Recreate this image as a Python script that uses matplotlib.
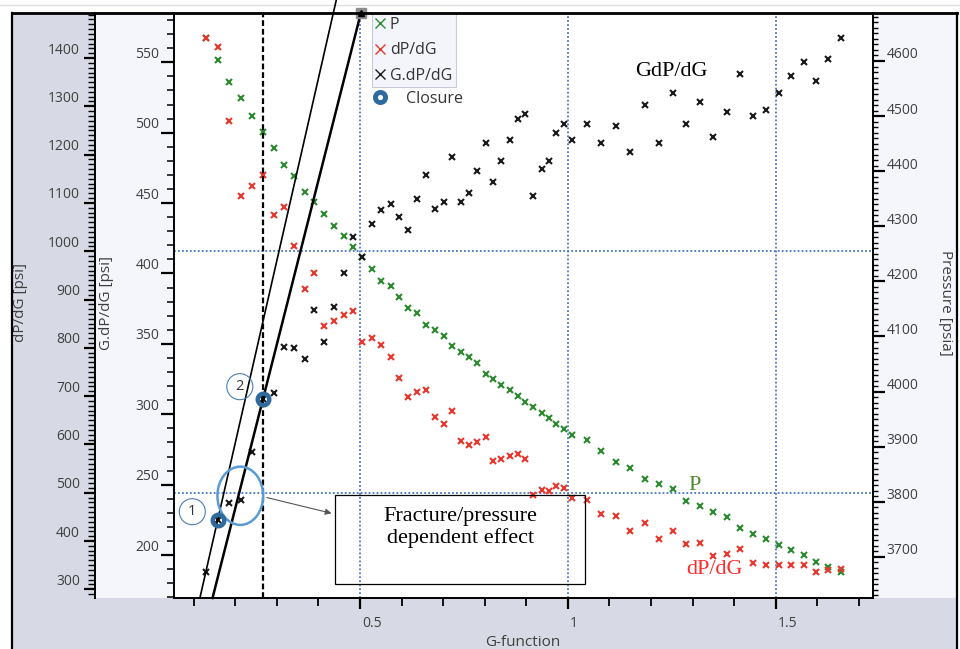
import matplotlib
matplotlib.use("Agg")
import matplotlib.pyplot as plt
from matplotlib.lines import Line2D
from matplotlib.patches import Rectangle, Ellipse, FancyArrowPatch
from matplotlib.transforms import ScaledTranslation
from matplotlib.ticker import MultipleLocator, FuncFormatter

plt.rcParams['font.family'] = ['Open Sans', 'DejaVu Sans']

# G-function samples shared by all three series
g_function = [0.130, 0.158, 0.185, 0.214, 0.240, 0.267, 0.293, 0.317, 0.342, 0.367,
              0.390, 0.414, 0.438, 0.461, 0.484, 0.506, 0.529, 0.551, 0.574, 0.595,
              0.616, 0.638, 0.659, 0.680, 0.701, 0.722, 0.742, 0.762, 0.782, 0.802,
              0.821, 0.840, 0.860, 0.879, 0.898, 0.917, 0.937, 0.954, 0.972, 0.991,
              1.010, 1.046, 1.080, 1.116, 1.150, 1.185, 1.219, 1.252, 1.285, 1.318,
              1.350, 1.382, 1.414, 1.445, 1.477, 1.507, 1.536, 1.567, 1.596, 1.626,
              1.656]

pressure_psia = [4641, 4602, 4562, 4532, 4501, 4471, 4442, 4411, 4392, 4362,
                 4344, 4322, 4301, 4282, 4262, 4244, 4222, 4201, 4192, 4171,
                 4152, 4142, 4121, 4112, 4101, 4082, 4072, 4062, 4051, 4032,
                 4022, 4012, 4002, 3992, 3982, 3972, 3962, 3952, 3942, 3932,
                 3921, 3912, 3892, 3872, 3862, 3842, 3832, 3823, 3801, 3792,
                 3781, 3772, 3752, 3742, 3732, 3722, 3712, 3703, 3691, 3682,
                 3673]

dpdg_psi = [1441, 1422, 1270, 1114, 1136, 1158, 1075, 1092, 1011, 921,
            954, 845, 856, 867, 876, 811, 820, 806, 782, 738,
            698, 709, 712, 656, 642, 669, 608, 599, 604, 615,
            566, 570, 575, 580, 570, 495, 506, 504, 514, 510,
            489, 484, 455, 452, 421, 438, 404, 421, 393, 395,
            368, 373, 383, 354, 350, 350, 350, 350, 336, 339,
            343]

g_dpdg_psi = [188, 225, 237, 239, 273, 311, 315, 348, 347, 339,
              374, 351, 376, 400, 426, 412, 435, 445, 449, 440,
              431, 453, 470, 446, 451, 483, 451, 457, 473, 493,
              465, 480, 495, 510, 513, 455, 474, 480, 500, 506,
              495, 506, 493, 505, 486, 520, 493, 528, 506, 522,
              497, 515, 542, 512, 516, 528, 540, 550, 537, 552,
              567]

# closure picks (indices into the samples) and slopes of the tangent lines through them
closure_idx = [1, 5]
tangent_slopes = [1295.0, 1165.0]

dpdg_gridlines = [500, 1000]

x_limits = (0.0529, 1.7336)
gdpdg_limits = (169.5, 585.0)
dpdg_limits = (282.0, 1493.2)
pressure_limits = (3625.4, 4687.1)

W, H, DPI = 960, 649, 100
fig = plt.figure(figsize=(W / DPI, H / DPI), dpi=DPI, facecolor='white')


def fbox(x0, y0, x1, y1):
    return (x0 / W, 1 - y1 / H, (x1 - x0) / W, (y1 - y0) / H)


# panel backgrounds
panel_dark = '#d7dae4'
panel_light = '#f4f6fb'
for x0, y0, x1, y1, c in [(12, 13, 95, 649, panel_dark),
                          (95, 13, 174, 598, panel_light),
                          (873, 13, 957, 598, panel_light),
                          (12, 598, 957, 649, panel_dark)]:
    l, b, w, h = fbox(x0, y0, x1, y1)
    fig.add_artist(Rectangle((l, b), w, h, transform=fig.transFigure,
                             facecolor=c, edgecolor='none', zorder=-10))

# outer frame
fig.add_artist(Line2D([0, 1], [1 - 5 / H] * 2, transform=fig.transFigure,
                      color='#dedede', lw=1.0, zorder=-9))
fig.add_artist(Line2D([12 / W, 957 / W], [1 - 13 / H] * 2, transform=fig.transFigure,
                      color='black', lw=2.0, zorder=10))
for xp in (12, 957):
    fig.add_artist(Line2D([xp / W] * 2, [0, 1 - 13 / H], transform=fig.transFigure,
                          color='black', lw=1.6, zorder=10))

L, R, T, B = 174, 873, 13, 598
ax = fig.add_axes(fbox(L, T, R, B))
ax_d = ax.twinx()
ax_p = ax.twinx()
for a, z in ((ax_p, 1), (ax_d, 2), (ax, 3)):
    a.set_zorder(z)
    a.patch.set_visible(False)
    for s in a.spines.values():
        s.set_visible(False)
        s.set_linewidth(1.4)

ax.spines['left'].set_visible(True)
ax.spines['bottom'].set_visible(True)
ax_d.spines['left'].set_visible(True)
ax_d.spines['left'].set_position(('axes', (95 - L) / (R - L)))
ax_d.yaxis.set_ticks_position('left')
ax_d.yaxis.set_label_position('left')
ax_p.spines['right'].set_visible(True)

ax.set_xlim(x_limits)
ax.set_ylim(gdpdg_limits)
ax_d.set_ylim(dpdg_limits)
ax_p.set_ylim(pressure_limits)

tick_color = '#3f3f3f'
ax.xaxis.set_major_locator(MultipleLocator(0.5))
ax.xaxis.set_minor_locator(MultipleLocator(0.1))
ax.xaxis.set_major_formatter(FuncFormatter(lambda v, p: f'{v:g}'))
ax.tick_params(axis='x', which='major', direction='out', length=8, width=1.6,
               pad=5, labelsize=10, labelcolor=tick_color)
ax.tick_params(axis='x', which='minor', direction='out', length=6, width=1.3)

ax.yaxis.set_major_locator(MultipleLocator(50))
ax.yaxis.set_minor_locator(MultipleLocator(10))
ax.tick_params(axis='y', which='major', direction='out', length=9.4, width=1.6,
               pad=1.2, labelsize=10, labelcolor=tick_color)
ax.tick_params(axis='y', which='minor', direction='out', length=4.8, width=1.1)

ax_d.yaxis.set_major_locator(MultipleLocator(100))
ax_d.yaxis.set_minor_locator(MultipleLocator(10))
ax_d.tick_params(axis='y', which='major', direction='out', length=7.9, width=1.6,
                 pad=2.9, labelsize=10, labelcolor=tick_color)
ax_d.tick_params(axis='y', which='minor', direction='out', length=4.8, width=1.0)

ax_p.yaxis.set_major_locator(MultipleLocator(100))
ax_p.yaxis.set_minor_locator(MultipleLocator(10))
ax_p.tick_params(axis='y', which='major', direction='out', length=8.6, width=1.6,
                 pad=1.2, labelsize=10, labelcolor=tick_color)
ax_p.tick_params(axis='y', which='minor', direction='out', length=3.6, width=1.0)


def shift_labels(labels, dx_px, dy_px):
    off = ScaledTranslation(dx_px / DPI, dy_px / DPI, fig.dpi_scale_trans)
    for t in labels:
        t.set_transform(t.get_transform() + off)


for t in ax.get_xticklabels():
    t.set_horizontalalignment('left')
shift_labels(ax.get_xticklabels(), 2, 0)
shift_labels(ax.get_yticklabels(), 0, 10)
shift_labels(ax_d.get_yticklabels(), 0, 10)
shift_labels(ax_p.get_yticklabels(), 0, 8)

# axis titles
lab_y = (B - 303) / (B - T)
ax_d.set_ylabel('dP/dG [psi]', fontsize=11, color=tick_color)
ax_d.yaxis.set_label_coords((21 - L) / (R - L), lab_y)
ax_d.yaxis.label.set_verticalalignment('center')
ax.set_ylabel('G.dP/dG [psi]', fontsize=11, color=tick_color)
ax.yaxis.set_label_coords((106 - L) / (R - L), lab_y)
ax.yaxis.label.set_verticalalignment('center')
ax_p.set_ylabel('Pressure [psia]', fontsize=11, color=tick_color, rotation=270)
ax_p.yaxis.set_label_coords((945 - L) / (R - L), lab_y)
ax_p.yaxis.label.set_verticalalignment('center')
ax.set_xlabel('G-function', fontsize=11, color=tick_color)
ax.xaxis.set_label_coords((523 - L) / (R - L), (B - 642) / (B - T))
ax.xaxis.label.set_verticalalignment('center')

# dotted grid
grid_kw = dict(color='#4a74c9', lw=1.3, ls=(0, (1, 1.2)), zorder=0.5)
for gx in (0.5, 1.0, 1.5):
    ax_p.axvline(gx, **grid_kw)
for gy in dpdg_gridlines:
    ax_d.axhline(gy, **grid_kw)

green, red, black = '#2d8a30', '#e8372c', '#1a1a1a'
mk = dict(ls='none', marker='x', ms=4.5, mew=1.5)
ax_p.plot(g_function, pressure_psia, color=green, **mk)
ax_d.plot(g_function, dpdg_psi, color=red, **mk)
ax.plot(g_function, g_dpdg_psi, color=black, **mk)

# closure picks, tangent lines and closure time marker
closure_g = [g_function[i] for i in closure_idx]
closure_v = [g_dpdg_psi[i] for i in closure_idx]
ax.axvline(closure_g[1], color='black', lw=1.6, ls=(0, (2.6, 1.3)), zorder=4)

fig_top_v = ax.transData.inverted().transform(fig.transFigure.transform((0, 1)))[1]
line_tops = [fig_top_v, gdpdg_limits[1]]
for g0, v0, slope, vtop, lw in zip(closure_g, closure_v, tangent_slopes, line_tops, (1.2, 1.8)):
    v_lo = gdpdg_limits[0]
    ax.plot([g0 + (v_lo - v0) / slope, g0 + (vtop - v0) / slope], [v_lo, vtop],
            color='black', lw=lw, clip_on=False, zorder=4)

g_end = closure_g[1] + (gdpdg_limits[1] - closure_v[1]) / tangent_slopes[1]
ax.plot([g_end], [gdpdg_limits[1]], marker='s', ms=7, color='#8c8c8c', clip_on=False, zorder=6)
ax.plot([g_end], [gdpdg_limits[1]], marker='^', ms=4, color='black', clip_on=False, zorder=7)

closure_color = '#2f6a9f'
ax.plot(closure_g, closure_v, ls='none', marker='o', ms=8.3, mfc='none',
        mec=closure_color, mew=3.2, zorder=6)

# annotations
ax.add_patch(Ellipse((0.2123, 242.1), 0.110, 41.4, fill=False, ec='#5b9bd5', lw=1.8, zorder=5))
for (cx, cy), num in zip([(0.0969, 230.8), (0.2111, 319.6)], ['1', '2']):
    ax.add_patch(Ellipse((cx, cy), 0.0626, 18.5, fill=False, ec='#4a7fb5', lw=0.8, zorder=5))
    ax.text(cx, cy, num, ha='center', va='center', fontsize=10.5, color='#333333', zorder=6)

ax.add_patch(FancyArrowPatch((0.2696, 241.3), (0.4381, 229.2), arrowstyle='-|>',
                             mutation_scale=9, color='#555555', lw=0.8, zorder=5))
ax.add_patch(Rectangle((0.4405, 179.5), 1.0401 - 0.4405, 242.7 - 179.5, fill=False,
                       ec='black', lw=0.9, zorder=5))
serif = ['Liberation Serif', 'DejaVu Serif']
ax.text(0.7408, 219.8, 'Fracture/pressure\ndependent effect', family=serif, fontsize=16,
        ha='center', va='center', linespacing=1.15, zorder=6)
ax.text(1.2484, 543.1, 'GdP/dG', family=serif, fontsize=16, ha='center', va='center', zorder=6)
ax.text(1.305, 249.4, 'P', family=serif, fontsize=16, color='#4f8a2c', ha='center', va='center', zorder=6)
ax.text(1.3531, 189.4, 'dP/dG', family=serif, fontsize=16, color='#ff2a2a', ha='center', va='center', zorder=6)

# legend
handles = [Line2D([], [], ls='none', marker='x', ms=7.5, mew=1.0, color=c) for c in (green, red, black)]
leg = fig.legend(handles, ['P', 'dP/dG', 'G.dP/dG'], loc='upper left',
                 bbox_to_anchor=(372 / W, 1 - 13 / H), bbox_transform=fig.transFigure,
                 frameon=True, fancybox=False, edgecolor='#c9ccd8', facecolor='#f4f5fa',
                 framealpha=1, borderpad=0.22, handlelength=0.6, handletextpad=0.3,
                 labelspacing=0.6, borderaxespad=0, fontsize=11.5, labelcolor='#333333')
leg.get_frame().set_linewidth(0.8)
closure_handle = Line2D([], [], ls='none', marker='o', ms=7.3, mfc='none', mec=closure_color, mew=3.5)
fig.legend([closure_handle], ['Closure'], loc='center left',
           bbox_to_anchor=(372 / W, 1 - 99 / H), bbox_transform=fig.transFigure,
           frameon=False, borderpad=0.2, handlelength=0.6, handletextpad=1.3,
           borderaxespad=0, fontsize=11.5, labelcolor='#333333')

fig.savefig('out.png', dpi=DPI, facecolor='white')
